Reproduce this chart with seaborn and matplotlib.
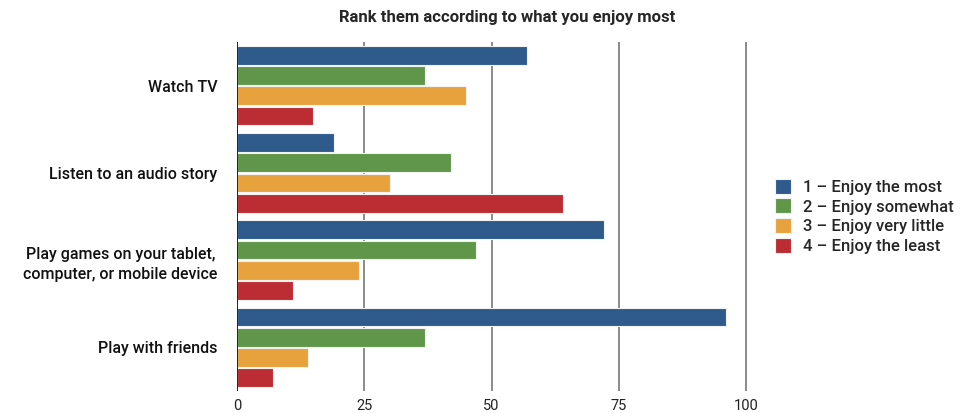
import matplotlib
matplotlib.use("Agg")
import matplotlib.pyplot as plt
import seaborn as sns
import pandas as pd

categories = ["Watch TV", "Listen to an audio story",
              "Play games on your tablet,\ncomputer, or mobile device", "Play with friends"]
series = ["1 – Enjoy the most", "2 – Enjoy somewhat", "3 – Enjoy very little", "4 – Enjoy the least"]
most = [57, 19, 72, 96]
somewhat = [37, 42, 47, 37]
little = [45, 30, 24, 14]
least = [15, 64, 11, 7]
xticks = [0, 25, 50, 75, 100]
colors = ["#2e5a8c", "#5f9649", "#e7a23e", "#bb2d33"]

rows = []
for s, vals in zip(series, [most, somewhat, little, least]):
    for c, v in zip(categories, vals):
        rows.append({"cat": c, "series": s, "value": v})
df = pd.DataFrame(rows)

sns.set_style("white")
plt.rcParams["font.family"] = ["Roboto", "DejaVu Sans"]

fig = plt.figure(figsize=(9.6, 4.13), dpi=100)
ax = fig.add_axes([0.2469, 0.0533, 0.531, 0.845])
sns.barplot(data=df, y="cat", x="value", hue="series", order=categories,
            hue_order=series, palette=colors, saturation=1, orient="h", width=0.93,
            gap=0.08, edgecolor="#f2f2f2", linewidth=0.8, ax=ax, zorder=3)
ax.set_xlim(0, 100.1)
ax.set_ylim(3.5, -0.5)
ax.set_xticks(xticks)
ax.set_xticklabels([str(t) for t in xticks], fontsize=10.5, color="#222222")
ax.tick_params(axis="y", labelsize=11.5, length=0, pad=14, colors="#111111")
ax.tick_params(axis="x", length=0, pad=6)
for lab in ax.get_yticklabels():
    lab.set_multialignment("center")
    lab.set_fontweight("medium")
    lab.set_linespacing(1.45)
for t in xticks[1:]:
    ax.axvline(t, color="#777777", lw=1.2, zorder=1)
ax.axvline(0, color="#111111", lw=1.3, zorder=4)
for sp in ax.spines.values():
    sp.set_visible(False)
ax.set_xlabel("")
ax.set_ylabel("")
ax.grid(False)
leg = ax.legend(loc="center left", bbox_to_anchor=(1.025, 0.5), frameon=False,
                prop={"size": 12, "weight": "medium"}, handlelength=1.0,
                handleheight=1.0, handletextpad=0.72, labelspacing=0.22)
fig.suptitle("Rank them according to what you enjoy most", x=0.528, y=0.975,
             fontsize=12, fontweight="bold")
fig.savefig("out.png", dpi=100)
